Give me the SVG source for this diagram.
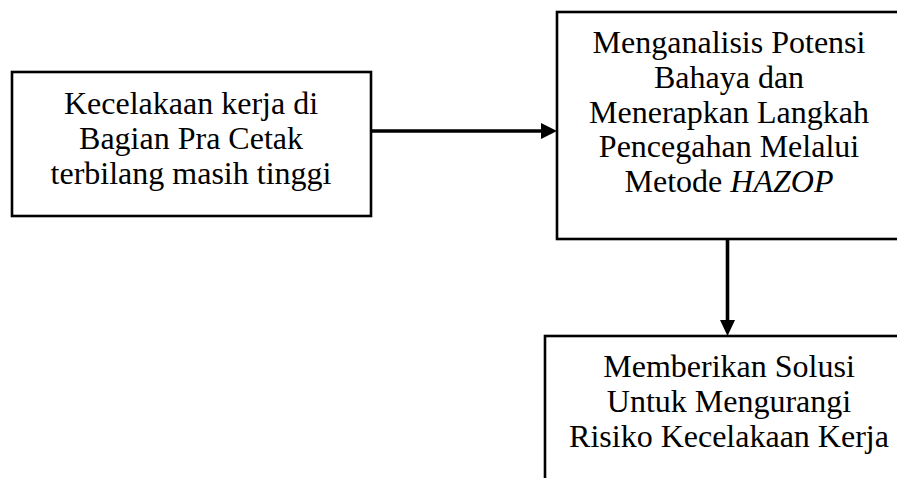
<svg xmlns="http://www.w3.org/2000/svg" width="897" height="478" viewBox="0 0 897 478">
<style>
.box{fill:#fff;stroke:#000;stroke-width:2.6}
.t{font-family:"Liberation Serif","Times New Roman",serif;font-size:32px;fill:#000;text-anchor:middle}
.c{stroke:#000;stroke-width:3.6;fill:none}
.h{fill:#000}
</style>
<rect width="897" height="478" fill="#fff"/>
<g id="node1">
<rect class="box" x="12" y="72" width="359" height="144"/>
<text class="t" x="191" y="114">Kecelakaan kerja di</text>
<text class="t" x="191" y="149">Bagian Pra Cetak</text>
<text class="t" x="191" y="184">terbilang masih tinggi</text>
</g>
<g id="node2">
<rect class="box" x="557" y="12" width="360" height="227"/>
<text class="t" x="729" y="53">Menganalisis Potensi</text>
<text class="t" x="729" y="88">Bahaya dan</text>
<text class="t" x="729" y="123">Menerapkan Langkah</text>
<text class="t" x="729" y="157">Pencegahan Melalui</text>
<text class="t" x="729" y="192">Metode <tspan font-style="italic">HAZOP</tspan></text>
</g>
<g id="node3">
<rect class="box" x="545" y="336" width="370" height="160"/>
<text class="t" x="729" y="377">Memberikan Solusi</text>
<text class="t" x="729" y="412">Untuk Mengurangi</text>
<text class="t" x="729" y="447">Risiko Kecelakaan Kerja</text>
</g>
<g id="connectors">
<line class="c" x1="371" y1="131" x2="543" y2="131"/>
<polygon class="h" points="541,123 557,131 541,139"/>
<line class="c" x1="727.5" y1="239" x2="727.5" y2="322"/>
<polygon class="h" points="720,320 735,320 727.5,336"/>
</g>
</svg>
